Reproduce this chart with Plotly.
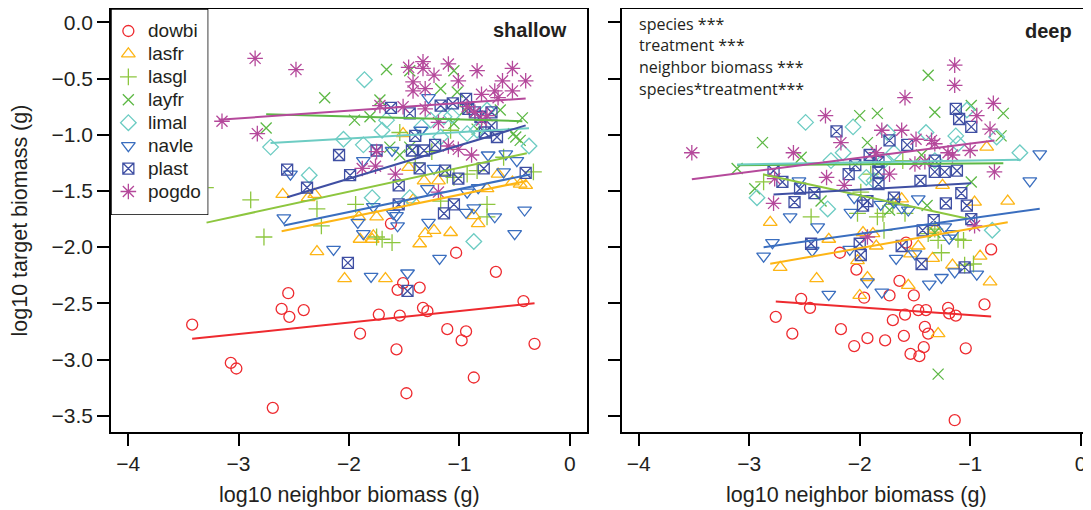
import plotly.graph_objects as go

species = ["dowbi", "lasfr", "lasgl", "layfr", "limal", "navle", "plast", "pogdo"]
colors = ["#EE2A2F", "#FDB515", "#8DC63F", "#5DB845", "#6DCCC3", "#3A6EBF", "#3F4FA3", "#B5499B"]
symbols = ["circle-open", "triangle-up-open", "cross-thin-open", "x-thin-open",
           "diamond-open", "triangle-down-open", "square-x-open", "asterisk-open"]
sizes = [11, 12, 12, 11, 12, 12, 11, 13]

x_ticks = [-4, -3, -2, -1, 0]
y_ticks = [0.0, -0.5, -1.0, -1.5, -2.0, -2.5, -3.0, -3.5]

# ---------------- shallow ----------------
sh_dowbi_x = [-3.42, -3.07, -3.02, -2.69, -2.55, -2.61, -2.54, -2.41, -1.90, -1.73, -1.62, -1.57, -1.54, -1.51, -1.56, -1.36, -1.48, -1.33, -1.29, -1.11, -1.03, -0.98, -0.94, -0.87, -0.67, -0.42, -0.32]
sh_dowbi_y = [-2.69, -3.03, -3.08, -3.43, -2.41, -2.55, -2.62, -2.56, -2.77, -2.60, -1.79, -2.91, -2.61, -2.32, -2.38, -2.36, -3.30, -2.54, -2.57, -2.73, -2.05, -2.83, -2.75, -3.16, -2.22, -2.48, -2.86]
sh_lasfr_x = [-2.60, -2.37, -2.31, -2.29, -2.04, -1.91, -1.90, -1.79, -1.75, -1.67, -1.51, -1.46, -1.42, -1.36, -1.32, -1.31, -1.23, -1.19, -1.08, -0.87, -0.83, -0.75, -0.65, -0.52, -0.45, -0.40, -1.78]
sh_lasfr_y = [-1.53, -1.56, -1.53, -2.04, -2.28, -1.73, -1.93, -1.93, -1.73, -2.28, -0.99, -1.29, -1.58, -1.97, -1.41, -1.88, -1.85, -1.41, -1.87, -1.72, -1.79, -1.48, -1.35, -1.42, -1.44, -1.45, -1.90]
sh_lasgl_x = [-3.30, -2.89, -2.77, -2.29, -2.25, -1.94, -1.75, -1.70, -1.61, -1.54, -1.40, -1.25, -1.17, -1.11, -1.08, -1.05, -0.93, -0.84, -0.75, -0.75, -0.60, -0.33]
sh_lasgl_y = [-1.47, -1.58, -1.91, -1.66, -1.81, -1.62, -1.91, -1.93, -1.96, -0.98, -1.25, -1.15, -1.59, -1.36, -0.96, -1.38, -1.35, -1.32, -1.62, -1.73, -1.20, -1.33]
sh_layfr_x = [-2.75, -2.22, -1.95, -1.81, -1.72, -1.66, -1.63, -1.54, -1.45, -1.45, -1.17, -1.05, -1.02, -1.05, -0.95, -0.84, -0.63, -0.51, -0.49, -0.45, -0.43]
sh_layfr_y = [-0.94, -0.67, -0.87, -0.84, -0.69, -0.42, -1.11, -1.18, -0.43, -1.11, -0.59, -0.43, -0.62, -0.90, -0.78, -0.95, -0.78, -0.99, -1.02, -1.05, -0.85]
sh_limal_x = [-2.71, -2.36, -2.05, -1.87, -1.86, -1.79, -1.70, -1.66, -1.45, -1.34, -1.26, -1.17, -1.14, -1.07, -0.93, -0.84, -0.75, -0.37, -0.87]
sh_limal_y = [-1.11, -1.36, -1.04, -1.09, -0.51, -1.56, -0.96, -0.87, -1.56, -0.93, -0.87, -1.02, -0.84, -0.83, -0.99, -0.96, -0.78, -1.10, -1.95]
sh_navle_x = [-2.59, -2.53, -2.14, -1.92, -1.87, -1.87, -1.80, -1.78, -1.61, -1.60, -1.57, -1.56, -1.47, -1.35, -1.29, -1.28, -1.28, -1.23, -1.18, -0.94, -0.93, -0.87, -0.83, -0.74, -0.68, -0.60, -0.58, -0.50, -0.48, -0.41]
sh_navle_y = [-1.74, -1.35, -2.02, -1.78, -1.88, -1.23, -2.26, -1.64, -1.14, -1.70, -1.72, -1.81, -2.23, -0.96, -1.48, -0.67, -1.78, -1.30, -2.10, -1.69, -1.51, -1.65, -1.47, -1.18, -1.73, -1.33, -1.17, -1.88, -1.23, -1.67]
sh_plast_x = [-2.56, -2.38, -2.09, -1.99, -1.75, -1.62, -1.45, -1.40, -1.43, -1.32, -1.22, -1.36, -1.13, -1.01, -1.55, -1.55, -1.17, -1.06, -0.94, -0.92, -0.81, -0.71, -0.71, -0.77, -0.66, -0.78, -0.40, -1.05, -1.14, -2.01, -1.47, -0.86]
sh_plast_y = [-1.31, -1.47, -1.18, -1.36, -1.14, -0.76, -0.81, -1.01, -1.14, -1.14, -1.09, -1.30, -1.32, -1.39, -1.45, -1.62, -0.74, -0.72, -0.68, -0.77, -0.84, -0.80, -0.92, -0.98, -1.02, -1.30, -1.34, -1.62, -1.70, -2.14, -2.39, -0.80]
sh_pogdo_x = [-2.85, -2.48, -3.15, -2.83, -1.75, -1.88, -1.76, -1.58, -1.46, -1.33, -1.33, -1.42, -1.42, -1.31, -1.23, -1.10, -1.01, -1.19, -1.10, -1.01, -0.89, -0.84, -0.80, -0.75, -0.68, -0.61, -0.52, -0.52, -0.40, -0.65, -0.93, -0.86, -0.80, -1.19, -1.51, -1.72, -1.31]
sh_pogdo_y = [-0.32, -0.42, -0.88, -0.99, -1.15, -1.30, -1.28, -1.35, -0.40, -0.35, -0.41, -0.53, -0.61, -0.59, -0.47, -0.37, -0.52, -0.89, -1.10, -1.13, -1.18, -0.43, -0.64, -0.83, -0.61, -0.52, -0.41, -0.61, -0.52, -0.67, -0.75, -0.80, -0.87, -1.51, -0.75, -0.74, -0.77]

# fitted lines (shallow): start x, end x, intercept, slope
sh_fit_x0 = [-3.42, -2.61, -3.29, -2.75, -2.71, -2.59, -2.56, -3.18]
sh_fit_x1 = [-0.32, -0.39, -0.39, -0.43, -0.37, -0.36, -0.40, -0.40]
sh_fit_b0 = [-2.467, -1.332, -1.081, -0.890, -0.920, -1.280, -0.798, -0.650]
sh_fit_b1 = [0.102, 0.202, 0.213, -0.026, 0.057, 0.204, 0.296, 0.068]

# ---------------- deep ----------------
dp_dowbi_x = [-2.76, -2.61, -2.53, -2.45, -2.18, -2.17, -2.05, -2.03, -1.96, -1.93, -1.77, -1.73, -1.70, -1.64, -1.60, -1.59, -1.54, -1.51, -1.47, -1.46, -1.42, -1.41, -1.40, -1.38, -1.20, -1.19, -1.13, -1.14, -1.04, -0.87, -0.81, -1.58]
dp_dowbi_y = [-2.62, -2.77, -2.46, -2.54, -2.05, -2.73, -2.88, -2.20, -2.45, -2.81, -2.83, -2.43, -2.65, -2.30, -2.79, -2.60, -2.95, -2.43, -2.56, -2.97, -2.89, -2.71, -2.56, -2.77, -2.54, -2.59, -2.61, -3.54, -2.90, -2.51, -2.02, -1.96]
dp_lasfr_x = [-2.81, -2.72, -2.39, -2.28, -2.02, -2.00, -1.93, -1.97, -1.88, -1.85, -1.56, -1.54, -1.47, -1.34, -1.29, -1.16, -0.91, -0.82, -0.66, -0.96, -1.32, -0.85, -1.62, -1.25]
dp_lasfr_y = [-1.78, -2.18, -2.28, -1.93, -2.12, -2.43, -2.27, -1.87, -1.88, -1.99, -2.34, -2.06, -1.99, -2.10, -2.77, -2.16, -2.08, -2.31, -1.59, -1.60, -1.84, -1.11, -1.57, -1.45]
dp_lasgl_x = [-2.87, -2.44, -1.61, -1.90, -1.84, -1.78, -1.38, -1.26, -1.06, -0.97, -2.02, -1.59, -1.32, -1.29, -1.11, -1.05, -1.70, -1.79, -1.99]
dp_lasgl_y = [-1.42, -1.73, -1.23, -1.35, -1.73, -1.85, -1.88, -2.05, -1.94, -2.15, -1.70, -1.70, -1.84, -1.94, -1.93, -2.16, -1.62, -1.70, -1.51]
dp_layfr_x = [-3.11, -2.88, -2.53, -2.00, -1.84, -1.93, -1.38, -1.32, -0.99, -0.70, -0.72, -2.95, -2.35, -0.99, -1.29, -1.39, -1.32, -1.44, -1.73]
dp_layfr_y = [-1.30, -1.07, -1.20, -0.83, -0.81, -1.07, -0.47, -0.80, -0.74, -0.81, -1.01, -1.48, -1.59, -1.42, -3.13, -1.63, -1.87, -1.18, -1.67]
dp_limal_x = [-2.49, -2.06, -2.15, -2.93, -2.29, -1.40, -1.13, -1.03, -0.55, -0.76, -1.87, -1.69, -0.80, -1.75, -1.11, -1.78, -1.32, -1.94, -2.26]
dp_limal_y = [-0.89, -0.93, -1.16, -1.56, -1.66, -0.98, -1.01, -0.78, -1.16, -1.02, -1.41, -1.16, -1.85, -0.98, -1.08, -1.23, -1.23, -1.38, -1.23]
dp_navle_x = [-2.87, -2.79, -2.63, -2.38, -2.28, -2.08, -2.43, -1.93, -1.80, -1.67, -1.50, -1.37, -1.26, -1.19, -1.14, -0.94, -0.46, -0.37, -2.55, -2.05, -2.09, -1.62, -1.56, -1.69, -1.16, -1.23, -1.81, -1.47]
dp_navle_y = [-2.08, -1.96, -1.73, -1.82, -2.42, -1.69, -2.03, -2.31, -2.40, -2.10, -2.06, -2.33, -2.27, -1.92, -2.22, -2.24, -1.41, -1.17, -1.41, -1.56, -2.02, -1.65, -1.67, -1.60, -1.88, -1.82, -1.62, -1.57]
dp_plast_x = [-2.21, -2.78, -2.70, -2.54, -2.41, -2.59, -2.10, -2.04, -1.91, -1.83, -1.83, -1.73, -1.57, -1.13, -1.10, -0.99, -1.32, -1.23, -1.12, -1.32, -1.45, -1.83, -1.93, -1.97, -1.69, -1.22, -1.08, -1.03, -0.99, -2.44, -2.00, -1.99, -1.62, -1.44, -1.43, -1.33, -1.05]
dp_plast_y = [-0.97, -1.32, -1.42, -1.48, -1.52, -1.60, -1.35, -1.27, -1.18, -1.24, -1.33, -1.05, -1.09, -0.77, -0.86, -0.93, -1.23, -1.33, -1.32, -1.33, -1.41, -1.44, -1.59, -1.63, -1.56, -1.61, -1.52, -1.63, -1.75, -1.97, -1.97, -2.07, -1.99, -2.15, -1.85, -1.76, -2.18]
dp_pogdo_x = [-3.52, -2.60, -2.77, -2.78, -2.31, -2.30, -2.14, -2.17, -1.80, -1.62, -1.73, -1.59, -1.14, -1.14, -0.94, -0.82, -0.79, -0.78, -1.00, -1.20, -1.16, -1.50, -1.41, -1.32, -1.49, -1.35, -1.85, -1.93, -0.96]
dp_pogdo_y = [-1.16, -1.16, -1.39, -1.61, -0.83, -1.38, -1.45, -1.07, -0.96, -0.96, -1.35, -0.67, -0.38, -0.56, -0.83, -0.95, -0.72, -1.33, -1.14, -1.16, -1.18, -1.26, -1.24, -1.08, -1.04, -1.05, -1.16, -1.91, -1.81]

dp_fit_x0 = [-2.76, -2.81, -2.87, -3.11, -3.11, -2.87, -2.78, -3.52]
dp_fit_x1 = [-0.81, -0.66, -1.02, -0.70, -0.55, -0.37, -0.99, -0.78]
dp_fit_b0 = [-2.674, -1.665, -1.963, -1.247, -1.214, -1.608, -1.375, -0.953]
dp_fit_b1 = [-0.069, 0.172, -0.212, 0.008, 0.016, 0.137, 0.056, 0.126]

stats_lines = ["species ***", "treatment ***", "neighbor biomass ***", "species*treatment***"]

shallow_x = [sh_dowbi_x, sh_lasfr_x, sh_lasgl_x, sh_layfr_x, sh_limal_x, sh_navle_x, sh_plast_x, sh_pogdo_x]
shallow_y = [sh_dowbi_y, sh_lasfr_y, sh_lasgl_y, sh_layfr_y, sh_limal_y, sh_navle_y, sh_plast_y, sh_pogdo_y]
deep_x = [dp_dowbi_x, dp_lasfr_x, dp_lasgl_x, dp_layfr_x, dp_limal_x, dp_navle_x, dp_plast_x, dp_pogdo_x]
deep_y = [dp_dowbi_y, dp_lasfr_y, dp_lasgl_y, dp_layfr_y, dp_limal_y, dp_navle_y, dp_plast_y, dp_pogdo_y]

FONT = "Liberation Sans, Arial, sans-serif"
TXT = "#231F20"
fig = go.Figure()

panels = [
    ("x", "y", shallow_x, shallow_y, sh_fit_x0, sh_fit_x1, sh_fit_b0, sh_fit_b1),
    ("x2", "y2", deep_x, deep_y, dp_fit_x0, dp_fit_x1, dp_fit_b0, dp_fit_b1),
]
for xa, ya, xs, ys, fx0, fx1, fb0, fb1 in panels:
    for i, sp in enumerate(species):
        fig.add_trace(go.Scatter(
            x=xs[i], y=ys[i], mode="markers", xaxis=xa, yaxis=ya, showlegend=False,
            marker=dict(symbol=symbols[i], size=sizes[i], color=colors[i],
                        line=dict(color=colors[i], width=1.3)),
            cliponaxis=False, hoverinfo="skip"))
    for i, sp in enumerate(species):
        lx = [fx0[i], fx1[i]]
        ly = [fb0[i] + fb1[i] * v for v in lx]
        fig.add_trace(go.Scatter(
            x=lx, y=ly, mode="lines", xaxis=xa, yaxis=ya, showlegend=False,
            line=dict(color=colors[i], width=2), hoverinfo="skip"))

# manual legend (its own hidden axes)
for i, sp in enumerate(species):
    fig.add_trace(go.Scatter(
        x=[0], y=[i], mode="markers", xaxis="x3", yaxis="y3", showlegend=False,
        marker=dict(symbol=symbols[i], size=sizes[i], color=colors[i],
                    line=dict(color=colors[i], width=1.3)), hoverinfo="skip"))

L_XR = [-0.977, 4.503]
L_YR = [8.025, -0.959]

axis_common = dict(showgrid=False, zeroline=False, showline=True, linecolor="black",
                   linewidth=1.5, ticks="outside", ticklen=12, tickwidth=1.5,
                   tickcolor="black", tickfont=dict(family=FONT, size=21, color=TXT))
Y_RANGE = [-3.645, 0.119]

fig.update_layout(
    width=1083, height=502,
    margin=dict(l=103, r=0, t=1, b=78),
    paper_bgcolor="white", plot_bgcolor="white",
    font=dict(family=FONT, color=TXT),
    xaxis=dict(domain=[0, 0.4857], range=[-4.155, 0.155], tickvals=x_ticks, mirror=True,
               anchor="y", **axis_common),
    yaxis=dict(domain=[0, 1], range=Y_RANGE, tickvals=y_ticks, tickformat=".1f", mirror=True,
               anchor="x", **axis_common),
    xaxis2=dict(domain=[0.5211, 1], range=[-4.155, 0.094], tickvals=x_ticks, mirror=True,
                anchor="y2", **axis_common),
    yaxis2=dict(domain=[0, 1], range=Y_RANGE, tickvals=y_ticks, showticklabels=False,
                mirror=False, anchor="x2", **axis_common),
    xaxis3=dict(domain=[0, 0.0993], range=L_XR, visible=False, anchor="y3"),
    yaxis3=dict(domain=[0.513, 1], range=L_YR, visible=False, anchor="x3"),
    showlegend=False,
)

fig.add_shape(type="rect", xref="x3", yref="y3", x0=L_XR[0], x1=L_XR[1], y0=L_YR[0], y1=L_YR[1],
              fillcolor="white", line=dict(color="black", width=1.5), layer="below")

annotations = []
for i, sp in enumerate(species):
    annotations.append(dict(x=1, y=i, xref="x3", yref="y3", text=sp, showarrow=False,
                            xanchor="left", yanchor="middle",
                            font=dict(family=FONT, size=19, color=TXT)))
annotations.append(dict(x=0.4677, y=0.9504, xref="paper", yref="paper", text="<b>shallow</b>",
                        showarrow=False, xanchor="right", yanchor="middle",
                        font=dict(family=FONT, size=20, color=TXT)))
annotations.append(dict(x=0.983, y=0.948, xref="paper", yref="paper", text="<b>deep</b>",
                        showarrow=False, xanchor="right", yanchor="middle",
                        font=dict(family=FONT, size=20, color=TXT)))
stat_y = [0.9645, 0.9149, 0.8629, 0.8109]
for t, yy in zip(stats_lines, stat_y):
    annotations.append(dict(x=0.5364, y=yy, xref="paper", yref="paper", text=t, showarrow=False,
                            xanchor="left", yanchor="middle",
                            font=dict(family="Open Sans, sans-serif", size=16, color=TXT)))
annotations.append(dict(x=0.2429, y=-0.1489, xref="paper", yref="paper",
                        text="log10 neighbor biomass (g)", showarrow=False,
                        xanchor="center", yanchor="middle",
                        font=dict(family=FONT, size=21.5, color=TXT)))
annotations.append(dict(x=0.7605, y=-0.1489, xref="paper", yref="paper",
                        text="log10 neighbor biomass (g)", showarrow=False,
                        xanchor="center", yanchor="middle",
                        font=dict(family=FONT, size=21.5, color=TXT)))
annotations.append(dict(x=-0.0929, y=0.5, xref="paper", yref="paper",
                        text="log10 target biomass (g)", showarrow=False, textangle=-90,
                        xanchor="center", yanchor="middle",
                        font=dict(family=FONT, size=21.5, color=TXT)))
fig.update_layout(annotations=annotations)

fig.write_html("out.html")
